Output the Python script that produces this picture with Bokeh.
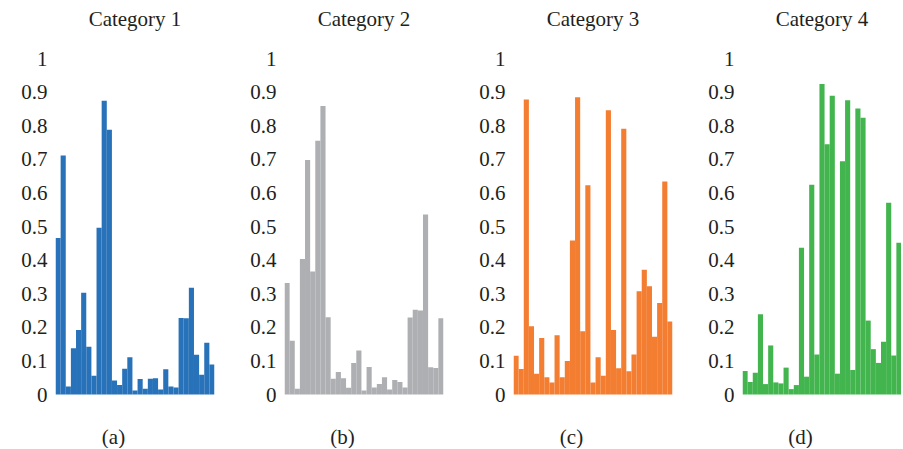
from bokeh.plotting import figure
from bokeh.layouts import row
from bokeh.models import FixedTicker, NumeralTickFormatter, Range1d
from bokeh.core.properties import value
from bokeh.embed import file_html
from bokeh.resources import INLINE

categories = ["Category 1", "Category 2", "Category 3", "Category 4"]
sub_labels = ["(a)", "(b)", "(c)", "(d)"]
y_ticks = [0, 0.1, 0.2, 0.3, 0.4, 0.5, 0.6, 0.7, 0.8, 0.9, 1]

cat1 = [0.466, 0.711, 0.024, 0.138, 0.192, 0.303, 0.142, 0.056, 0.496, 0.874,
        0.788, 0.042, 0.028, 0.077, 0.111, 0.012, 0.046, 0.017, 0.047, 0.048,
        0.015, 0.075, 0.024, 0.021, 0.228, 0.227, 0.318, 0.118, 0.059, 0.154, 0.089]
cat2 = [0.332, 0.160, 0.017, 0.403, 0.698, 0.366, 0.755, 0.859, 0.230, 0.047,
        0.067, 0.048, 0.020, 0.094, 0.131, 0.012, 0.082, 0.021, 0.031, 0.051,
        0.015, 0.043, 0.037, 0.021, 0.229, 0.252, 0.250, 0.536, 0.081, 0.079, 0.227]
cat3 = [0.115, 0.076, 0.878, 0.203, 0.062, 0.168, 0.051, 0.036, 0.176, 0.051,
        0.100, 0.458, 0.885, 0.188, 0.623, 0.036, 0.111, 0.056, 0.846, 0.192,
        0.078, 0.791, 0.069, 0.119, 0.307, 0.371, 0.322, 0.172, 0.272, 0.634, 0.217]
cat4 = [0.070, 0.037, 0.065, 0.239, 0.031, 0.146, 0.036, 0.033, 0.080, 0.016,
        0.028, 0.437, 0.053, 0.624, 0.119, 0.924, 0.745, 0.889, 0.062, 0.694,
        0.876, 0.073, 0.851, 0.824, 0.220, 0.135, 0.094, 0.157, 0.571, 0.116, 0.452]
series = [cat1, cat2, cat3, cat4]
colors = ["#2872ba", "#aeafb2", "#f37d31", "#43b54e"]

FONT = "Liberation Serif"
TXT = "#231f20"
FS = "21px"

# layout in pixels
H = 448          # figure height
Y0 = 394         # pixel row of value 0
Y1 = 58          # pixel row of value 1
PX = Y0 - Y1     # pixels per unit
TITLE_Y = 18     # pixel row of titles
SUB_Y = 436      # pixel row of sub-labels

figs = []
for i, (name, vals, col, sub) in enumerate(zip(categories, series, colors, sub_labels)):
    last = i == len(categories) - 1
    n = len(vals)
    p = figure(width=214 if last else 229, height=H,
               output_backend="svg", toolbar_location=None,
               x_range=Range1d(0.5, n + 0.5),
               y_range=Range1d((Y0 - H) / PX, Y0 / PX),
               min_border_left=55, min_border_right=0 if last else 15,
               min_border_top=0, min_border_bottom=0)
    xs = list(range(1, n + 1))
    p.vbar(x=xs, top=vals, width=1, bottom=0, fill_color=col, line_color=None)
    cx = (n + 1) / 2
    p.text(x=[cx], y=[(Y0 - TITLE_Y) / PX], text=[name],
           text_font=value(FONT), text_font_size=FS, text_color=TXT,
           text_align="center", text_baseline="middle")
    p.text(x=[cx], y=[(Y0 - SUB_Y) / PX], text=[sub], x_offset=-21.5,
           text_font=value(FONT), text_font_size=FS, text_color=TXT,
           text_align="center", text_baseline="middle")
    p.xaxis.visible = False
    yax = p.yaxis[0]
    yax.ticker = FixedTicker(ticks=y_ticks)
    yax.formatter = NumeralTickFormatter(format="0.[0]")
    yax.axis_line_color = None
    yax.major_tick_line_color = None
    yax.minor_tick_line_color = None
    yax.major_tick_out = 0
    yax.major_tick_in = 0
    yax.major_label_standoff = 8
    yax.major_label_text_font = FONT
    yax.major_label_text_font_size = FS
    yax.major_label_text_color = TXT
    p.xgrid.visible = False
    p.ygrid.visible = False
    p.outline_line_color = None
    figs.append(p)

layout = row(*figs)
open("out.html", "w").write(file_html(layout, INLINE))
